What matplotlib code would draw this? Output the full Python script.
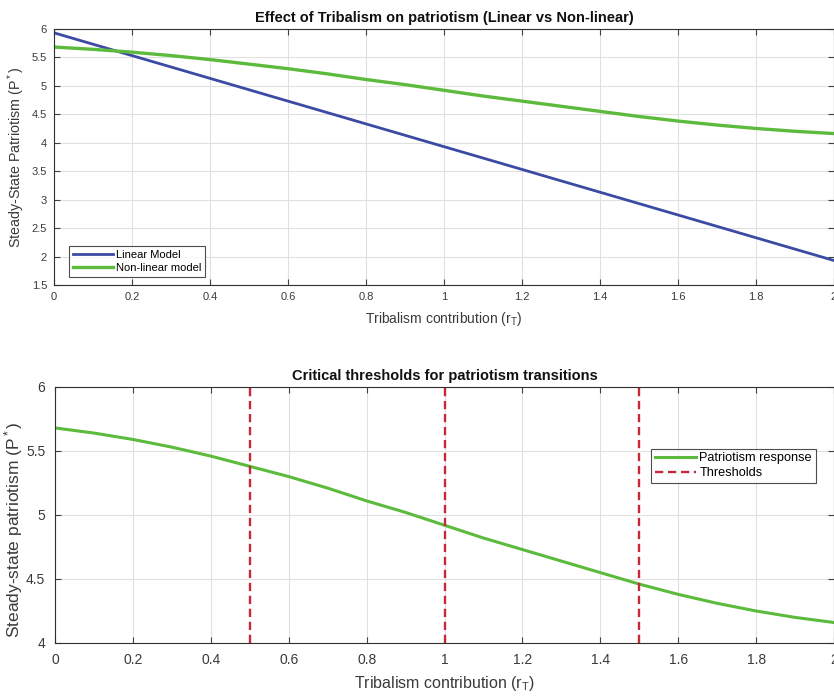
import matplotlib
matplotlib.use("Agg")
import matplotlib.pyplot as plt
import numpy as np

plt.rcParams['font.family'] = ['Liberation Sans', 'DejaVu Sans']
plt.rcParams['mathtext.fontset'] = 'custom'
plt.rcParams['mathtext.rm'] = 'Liberation Sans'
plt.rcParams['mathtext.it'] = 'Liberation Sans'

r_T = [0.0, 0.1, 0.2, 0.3, 0.4, 0.5, 0.6, 0.7, 0.8, 0.9, 1.0,
       1.1, 1.2, 1.3, 1.4, 1.5, 1.6, 1.7, 1.8, 1.9, 2.0]
linear_model = [5.93, 5.73, 5.53, 5.33, 5.13, 4.93, 4.73, 4.53, 4.33, 4.13, 3.93,
                3.73, 3.53, 3.33, 3.13, 2.93, 2.73, 2.53, 2.33, 2.13, 1.93]
nonlinear_model = [5.68, 5.64, 5.59, 5.53, 5.46, 5.38, 5.30, 5.21, 5.11, 5.02, 4.92,
                   4.82, 4.73, 4.64, 4.55, 4.46, 4.38, 4.31, 4.25, 4.20, 4.16]
thresholds = [0.5, 1.0, 1.5]

blue = '#3b4ba3'
green = '#5cbb3c'
red = '#c8283a'
txt = '#3a3a3a'

fig = plt.figure(figsize=(8.34, 6.98), dpi=100)
ax1 = fig.add_axes([0.0647, 0.5917, 0.9353, 0.367])
ax2 = fig.add_axes([0.066, 0.0788, 0.934, 0.3668])

def style(ax, fs, pad):
    ax.grid(True, color='#e0e0e0', linewidth=0.8)
    ax.set_axisbelow(True)
    ax.tick_params(direction='in', top=True, right=True, length=4, colors='#404040',
                   labelsize=fs, labelcolor=txt, pad=pad)
    for s in ax.spines.values():
        s.set_color('#303030')
        s.set_linewidth(0.8)

ax1.plot(r_T, linear_model, color=blue, lw=2.0, label='Linear Model')
ax1.plot(r_T, nonlinear_model, color=green, lw=2.4, label='Non-linear model')
ax1.set_xlim(0, 2)
ax1.set_ylim(1.5, 6)
ax1.set_xticks(np.arange(0, 2.01, 0.2))
ax1.set_xticklabels(['0', '0.2', '0.4', '0.6', '0.8', '1', '1.2', '1.4', '1.6', '1.8', '2'])
ax1.set_yticks(np.arange(1.5, 6.01, 0.5))
ax1.set_yticklabels(['1.5', '2', '2.5', '3', '3.5', '4', '4.5', '5', '5.5', '6'])
style(ax1, 8, 5)
ax1.set_title('Effect of Tribalism on patriotism (Linear vs Non-linear)',
              fontsize=10.5, fontweight='bold', color='#111111', pad=5)
ax1.set_xlabel('Tribalism contribution (r$_T$)', fontsize=10, color=txt, labelpad=6)
ax1.set_ylabel('Steady-State Patriotism (P$^*$)', fontsize=10.3, color=txt)
ax1.yaxis.set_label_coords(-0.035, 0.5)
leg1 = ax1.legend(loc='lower left', fontsize=8, frameon=True, fancybox=False,
                  edgecolor='#222222', handlelength=3.6, handletextpad=0.3,
                  borderpad=0.35, labelspacing=0.25, bbox_to_anchor=(0.012, 0.01))
leg1.get_frame().set_linewidth(0.8)

ax2.plot(r_T, nonlinear_model, color=green, lw=2.2, label='Patriotism response')
for i, t in enumerate(thresholds):
    ax2.axvline(t, color=red, ls='--', lw=1.7, dashes=(3.5, 2),
                label='Thresholds' if i == 0 else None)
ax2.set_xlim(0, 2)
ax2.set_ylim(4, 6)
ax2.set_xticks(np.arange(0, 2.01, 0.2))
ax2.set_xticklabels(['0', '0.2', '0.4', '0.6', '0.8', '1', '1.2', '1.4', '1.6', '1.8', '2'])
ax2.set_yticks([4, 4.5, 5, 5.5, 6])
ax2.set_yticklabels(['4', '4.5', '5', '5.5', '6'])
style(ax2, 10, 7)
ax2.set_title('Critical thresholds for patriotism transitions',
              fontsize=10.5, fontweight='bold', color='#111111', pad=5)
ax2.set_xlabel('Tribalism contribution (r$_T$)', fontsize=11.5, color=txt, labelpad=5)
ax2.set_ylabel('Steady-state patriotism (P$^*$)', fontsize=12.5, color=txt)
ax2.yaxis.set_label_coords(-0.038, 0.44)
leg2 = ax2.legend(loc='upper right', fontsize=9.2, frameon=True, fancybox=False,
                  edgecolor='#222222', handlelength=3.2, handletextpad=0.3,
                  borderpad=0.3, labelspacing=0.2, bbox_to_anchor=(0.985, 0.784))
leg2.get_frame().set_linewidth(0.8)

fig.savefig('out.png', dpi=100)
